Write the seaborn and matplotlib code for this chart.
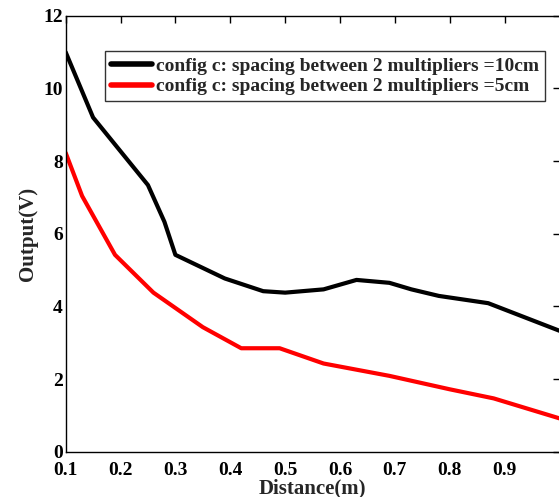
import pandas as pd
import matplotlib
matplotlib.use('Agg')
import matplotlib.pyplot as plt
import seaborn as sns

# Data
dist_10cm = [0.10, 0.15, 0.25, 0.28, 0.30, 0.39, 0.46, 0.50, 0.57, 0.63, 0.69, 0.73, 0.78, 0.87, 1.00]
out_10cm = [11.0, 9.2, 7.34, 6.33, 5.42, 4.77, 4.42, 4.38, 4.47, 4.73, 4.65, 4.47, 4.29, 4.09, 3.33]
dist_5cm = [0.10, 0.13, 0.19, 0.26, 0.35, 0.42, 0.49, 0.57, 0.69, 0.80, 0.88, 1.00]
out_5cm = [8.23, 7.04, 5.42, 4.38, 3.43, 2.85, 2.85, 2.43, 2.09, 1.72, 1.47, 0.92]
labels = ['config c: spacing between 2 multipliers =10cm',
          'config c: spacing between 2 multipliers =5cm']
xticks = [0.1, 0.2, 0.3, 0.4, 0.5, 0.6, 0.7, 0.8, 0.9]
yticks = [0, 2, 4, 6, 8, 10, 12]

df = pd.concat([
    pd.DataFrame({'dist': dist_10cm, 'out': out_10cm, 'config': labels[0]}),
    pd.DataFrame({'dist': dist_5cm, 'out': out_5cm, 'config': labels[1]}),
])

sns.set_style('white')
plt.rcParams['font.family'] = ['Liberation Serif', 'DejaVu Serif']
plt.rcParams['font.weight'] = 'bold'

fig = plt.figure(figsize=(5.59, 4.97), dpi=100)
ax = fig.add_axes([0.1174, 0.0909, 0.8836, 0.8775])

sns.lineplot(data=df, x='dist', y='out', hue='config', palette=['black', 'red'],
             linewidth=3, sort=False, estimator=None, ax=ax)

ax.set_xlim(0.1, 1.0)
ax.set_ylim(0, 12)
ax.set_xticks(xticks)
ax.set_yticks(yticks)
ax.set_xticklabels([f'{t:g}' for t in xticks], fontsize=14, fontweight='bold')
ax.set_yticklabels([str(t) for t in yticks], fontsize=14, fontweight='bold')
ax.tick_params(direction='in', top=True, right=True, length=5, width=1, pad=2, colors='black')
ax.tick_params(axis='x', pad=7)
for s in ax.spines.values():
    s.set_color('black')
    s.set_linewidth(1)

ax.set_xlabel('Distance(m)', fontsize=15, fontweight='bold', labelpad=0)
ax.set_ylabel('Output(V)', fontsize=15, fontweight='bold', labelpad=4)

leg = ax.legend(loc='upper left', bbox_to_anchor=(0.08, 0.918), fontsize=14,
                frameon=True, fancybox=False, handlelength=2.1, borderpad=0.3,
                labelspacing=0.15, handletextpad=0.2, borderaxespad=0)
leg.get_frame().set_edgecolor('black')
leg.get_frame().set_linewidth(1)
for t in leg.get_texts():
    t.set_fontweight('bold')
for l in leg.get_lines():
    l.set_linewidth(4)

fig.savefig('out.png', dpi=100)
